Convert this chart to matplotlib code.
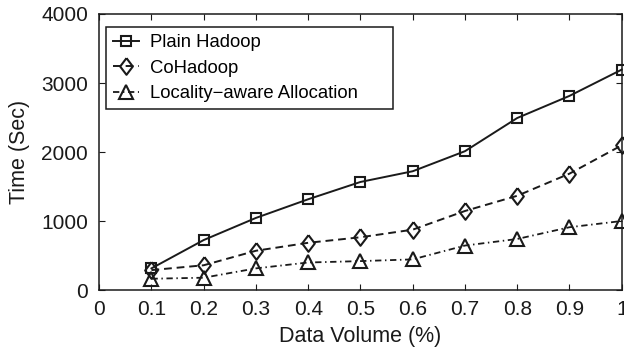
import matplotlib
matplotlib.use("Agg")
from matplotlib import pyplot as plt

plt.rcParams['font.family'] = ['Liberation Sans', 'DejaVu Sans']

# Job time vs. share of the input data, three placement schemes
volume = [0.1, 0.2, 0.3, 0.4, 0.5, 0.6, 0.7, 0.8, 0.9, 1.0]
plain_hadoop = [320, 730, 1050, 1320, 1570, 1725, 2015, 2495, 2815, 3195]
co_hadoop = [295, 365, 575, 690, 770, 880, 1150, 1370, 1690, 2100]
locality = [170, 185, 320, 405, 425, 450, 650, 745, 915, 1005]

x_ticks = [0, 0.1, 0.2, 0.3, 0.4, 0.5, 0.6, 0.7, 0.8, 0.9, 1]
x_ticklabels = ["0", "0.1", "0.2", "0.3", "0.4", "0.5", "0.6", "0.7", "0.8", "0.9", "1"]
y_ticks = [0, 1000, 2000, 3000, 4000]

ink = "#1a1a1a"
# taller-than-wide diamond
diamond = [(0, 1), (0.76, 0), (0, -1), (-0.76, 0), (0, 1)]

fig = plt.figure(figsize=(6.24, 3.54), dpi=100)
ax = fig.add_axes([0.159, 0.1794, 0.8373, 0.7811])

ax.plot(volume, plain_hadoop, color=ink, lw=1.4, linestyle="-",
        marker="s", ms=7, mfc="none", mec=ink, mew=1.5,
        clip_on=False, label="Plain Hadoop")
ax.plot(volume, co_hadoop, color=ink, lw=1.4, linestyle=(0, (4, 2.5)),
        marker=diamond, ms=12, mfc="none", mec=ink, mew=1.5,
        clip_on=False, label="CoHadoop")
ax.plot(volume, locality, color=ink, lw=1.3, linestyle=(0, (3.5, 2, 0.8, 2)),
        marker="^", ms=9.5, mfc="none", mec=ink, mew=1.5,
        clip_on=False, label="Locality\u2212aware Allocation")

ax.set_xlim(0, 1)
ax.set_ylim(0, 4000)
ax.set_xticks(x_ticks)
ax.set_xticklabels(x_ticklabels)
ax.set_yticks(y_ticks)
ax.tick_params(direction="in", top=True, right=True, length=4, width=0.8,
               labelsize=15, colors=ink)
ax.tick_params(axis="x", pad=7)
ax.tick_params(axis="y", pad=8)
for s in ax.spines.values():
    s.set_linewidth(1.1)
    s.set_color(ink)

ax.set_xlabel("Data Volume (%)", fontsize=15.5, color=ink)
ax.set_ylabel("Time (Sec)", fontsize=15.5, color=ink)
ax.xaxis.set_label_coords(0.5, -0.128)
ax.yaxis.set_label_coords(-0.133, 0.5)

# legend box stretched to a fixed width
leg = ax.legend(loc="upper left", bbox_to_anchor=(0.0128, 0.6, 0.549, 0.353),
                mode="expand", fontsize=13.3,
                borderaxespad=0, handlelength=1.4, handletextpad=0.6,
                borderpad=0.4, labelspacing=0.45, fancybox=False,
                framealpha=1, edgecolor=ink)
leg.get_frame().set_linewidth(1.1)

fig.savefig("out.png", dpi=100)
